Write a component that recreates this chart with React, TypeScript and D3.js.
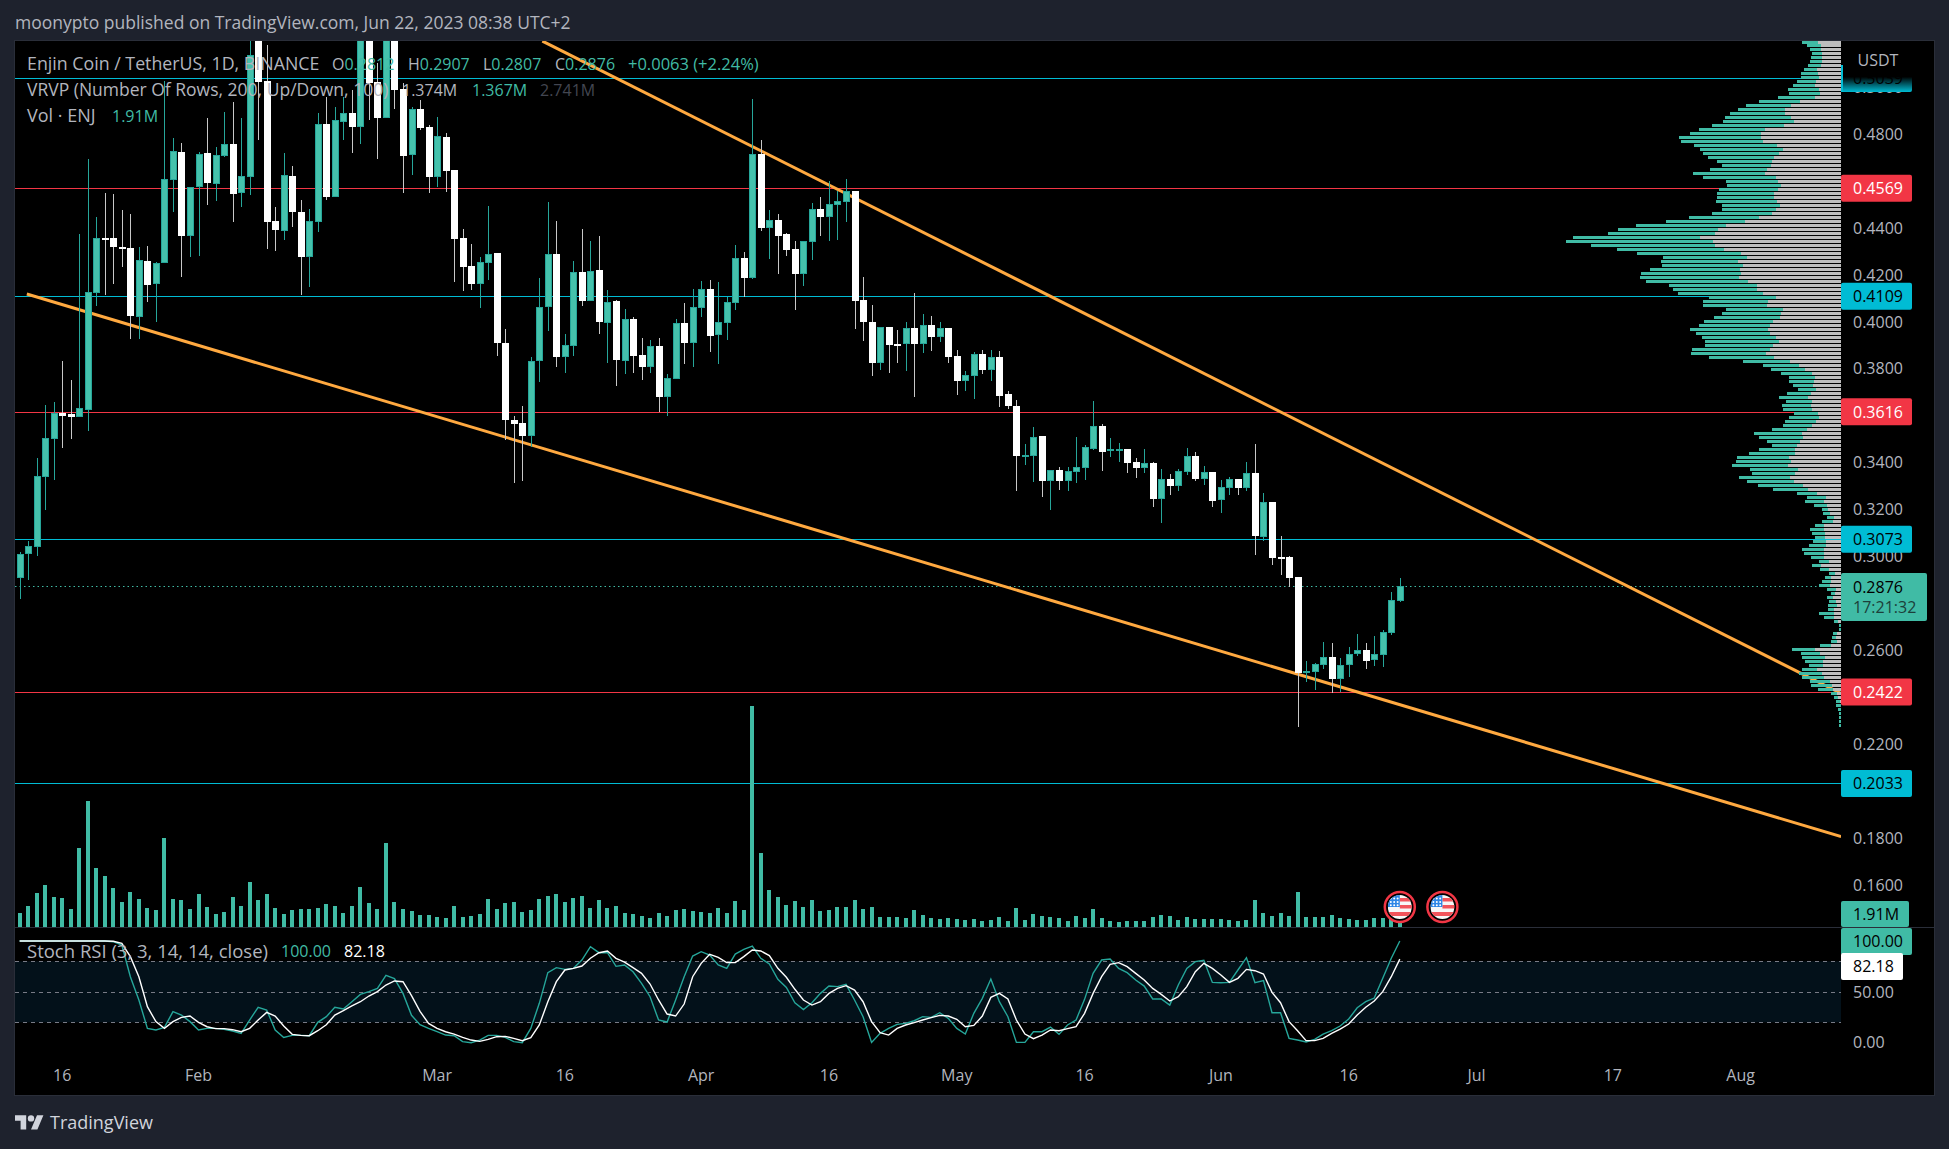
import { useEffect, useRef } from "react";
import * as d3 from "d3";

// Daily candles, day 0 = Jan 11 2023
const opens = [
  0.2906,0.3011,0.3040,0.3340,0.3502,0.3612,0.3607,0.3596,0.3626,0.4124,
  0.4356,0.4356,0.4319,0.4315,0.4022,0.4259,0.4161,0.4252,0.4604,0.4723,
  0.4366,0.4574,0.4719,0.4587,0.4708,0.4758,0.4550,0.4618,0.5210,0.5026,
  0.4430,0.4387,0.4621,0.4468,0.4278,0.4427,0.4843,0.4532,0.4851,0.4890,
  0.4830,0.5290,0.5022,0.4868,0.5250,0.4992,0.4711,0.4907,0.4830,0.4617,
  0.4787,0.4647,0.4357,0.4238,0.4161,0.4251,0.4293,0.3910,0.3582,0.3569,
  0.3514,0.3833,0.4063,0.4289,0.3850,0.3898,0.4212,0.4089,0.4221,0.3995,
  0.4089,0.3833,0.4012,0.3859,0.3808,0.3897,0.3680,0.3756,0.3995,0.3910,
  0.4060,0.4140,0.3944,0.3995,0.4082,0.4272,0.4187,0.4715,0.4400,0.4434,
  0.4374,0.4310,0.4204,0.4340,0.4481,0.4447,0.4498,0.4510,0.4557,0.4093,
  0.3999,0.3825,0.3978,0.3905,0.3905,0.3974,0.3905,0.3986,0.3935,0.3974,
  0.3854,0.3748,0.3769,0.3863,0.3795,0.3850,0.3693,0.3641,0.3428,0.3428,
  0.3514,0.3322,0.3369,0.3322,0.3360,0.3377,0.3458,0.3556,0.3450,0.3450,
  0.3458,0.3403,0.3377,0.3399,0.3245,0.3330,0.3301,0.3360,0.3428,0.3330,
  0.3360,0.3241,0.3292,0.3330,0.3292,0.3356,0.3084,0.3232,0.2998,0.2998,
  0.2913,0.2504,0.2508,0.2538,0.2572,0.2478,0.2538,0.2585,0.2602,0.2559,
  0.2581,0.2674,0.2812,
];
const highs = [
  0.3021,0.3065,0.3420,0.3646,0.3659,0.3833,0.3752,0.4374,0.4694,0.4445,
  0.4547,0.4545,0.4476,0.4459,0.4320,0.4323,0.4256,0.5026,0.4782,0.4760,
  0.4576,0.4725,0.4867,0.4746,0.4895,0.4936,0.4867,0.5196,0.5300,0.5179,
  0.4488,0.4718,0.4664,0.4519,0.4479,0.4888,0.4959,0.4917,0.4959,0.4988,
  0.5360,0.5340,0.5101,0.5330,0.5330,0.5016,0.4917,0.4945,0.4838,0.4874,
  0.4803,0.4647,0.4394,0.4330,0.4278,0.4493,0.4293,0.3969,0.3599,0.3641,
  0.3849,0.4185,0.4510,0.4430,0.3948,0.4259,0.4395,0.4344,0.4366,0.4136,
  0.4093,0.4055,0.4022,0.3930,0.3923,0.3930,0.3778,0.4012,0.4082,0.4138,
  0.4174,0.4178,0.4170,0.4107,0.4327,0.4297,0.4950,0.4775,0.4476,0.4459,
  0.4378,0.4343,0.4344,0.4506,0.4532,0.4600,0.4555,0.4608,0.4557,0.4191,
  0.4072,0.3979,0.3978,0.3965,0.3999,0.4123,0.4033,0.4025,0.3999,0.3974,
  0.3880,0.3790,0.3871,0.3880,0.3880,0.3876,0.3705,0.3667,0.3480,0.3552,
  0.3514,0.3369,0.3382,0.3382,0.3509,0.3475,0.3663,0.3565,0.3505,0.3484,
  0.3458,0.3420,0.3458,0.3403,0.3373,0.3352,0.3373,0.3462,0.3445,0.3386,
  0.3360,0.3326,0.3339,0.3330,0.3403,0.3480,0.3270,0.3232,0.3087,0.3002,
  0.2913,0.2555,0.2546,0.2636,0.2631,0.2568,0.2614,0.2670,0.2631,0.2661,
  0.2687,0.2849,0.2907,
];
const lows = [
  0.2819,0.2900,0.3002,0.3198,0.3326,0.3462,0.3501,0.3593,0.3535,0.4067,
  0.4116,0.4161,0.4232,0.3927,0.3927,0.4086,0.4001,0.4252,0.4468,0.4192,
  0.4278,0.4280,0.4498,0.4516,0.4704,0.4427,0.4488,0.4540,0.4775,0.4310,
  0.4303,0.4349,0.4405,0.4114,0.4147,0.4384,0.4519,0.4532,0.4775,0.4721,
  0.4758,0.4860,0.4694,0.4868,0.4905,0.4550,0.4625,0.4817,0.4550,0.4576,
  0.4552,0.4171,0.4133,0.4136,0.4057,0.4178,0.3852,0.3497,0.3312,0.3323,
  0.3465,0.3745,0.3961,0.3809,0.3781,0.3856,0.4069,0.4089,0.3947,0.3826,
  0.3728,0.3778,0.3781,0.3752,0.3783,0.3616,0.3600,0.3756,0.3820,0.3809,
  0.4022,0.3873,0.3820,0.3923,0.4050,0.4107,0.4182,0.4387,0.4268,0.4204,
  0.4280,0.4050,0.4153,0.4263,0.4366,0.4344,0.4349,0.4425,0.3969,0.3918,
  0.3769,0.3795,0.3782,0.3823,0.3791,0.3680,0.3867,0.3876,0.3914,0.3825,
  0.3688,0.3705,0.3671,0.3778,0.3748,0.3637,0.3629,0.3279,0.3390,0.3318,
  0.3254,0.3198,0.3284,0.3279,0.3313,0.3326,0.3454,0.3365,0.3424,0.3403,
  0.3356,0.3335,0.3356,0.3211,0.3143,0.3262,0.3279,0.3347,0.3322,0.3305,
  0.3211,0.3186,0.3262,0.3262,0.3279,0.3007,0.3067,0.2964,0.2921,0.2870,
  0.2274,0.2465,0.2431,0.2521,0.2418,0.2423,0.2487,0.2576,0.2521,0.2533,
  0.2529,0.2666,0.2807,
];
const closes = [
  0.3011,0.3045,0.3343,0.3505,0.3610,0.3599,0.3595,0.3633,0.4126,0.4356,
  0.4353,0.4320,0.4310,0.4025,0.4263,0.4157,0.4249,0.4608,0.4728,0.4366,
  0.4574,0.4715,0.4591,0.4711,0.4758,0.4545,0.4621,0.5137,0.5022,0.4425,
  0.4391,0.4625,0.4468,0.4276,0.4430,0.4843,0.4532,0.4860,0.4890,0.4830,
  0.5290,0.5017,0.4868,0.5250,0.4988,0.4706,0.4907,0.4826,0.4617,0.4792,
  0.4643,0.4353,0.4234,0.4161,0.4255,0.4289,0.3910,0.3582,0.3565,0.3514,
  0.3833,0.4063,0.4289,0.3850,0.3901,0.4212,0.4089,0.4217,0.3999,0.4084,
  0.3837,0.4012,0.3854,0.3808,0.3897,0.3680,0.3761,0.3995,0.3910,0.4063,
  0.4140,0.3940,0.3999,0.4085,0.4272,0.4187,0.4715,0.4400,0.4434,0.4366,
  0.4306,0.4204,0.4344,0.4481,0.4447,0.4502,0.4515,0.4557,0.4089,0.3999,
  0.3825,0.3978,0.3901,0.3901,0.3974,0.3905,0.3986,0.3935,0.3974,0.3850,
  0.3748,0.3773,0.3863,0.3795,0.3850,0.3684,0.3641,0.3428,0.3433,0.3509,
  0.3322,0.3369,0.3322,0.3365,0.3382,0.3467,0.3556,0.3445,0.3458,0.3458,
  0.3399,0.3377,0.3399,0.3245,0.3330,0.3301,0.3365,0.3428,0.3330,0.3360,
  0.3237,0.3296,0.3330,0.3292,0.3356,0.3085,0.3232,0.2994,0.2994,0.2908,
  0.2504,0.2512,0.2542,0.2572,0.2478,0.2538,0.2585,0.2602,0.2555,0.2585,
  0.2678,0.2815,0.2876,
];
// Volume, millions of ENJ
const volumes = [
  2.06,3.09,5.0,6.18,4.41,4.26,2.65,11.6,18.5,8.68,
  7.5,5.74,3.68,5.15,4.12,2.79,2.5,13.1,4.12,3.97,
  2.65,4.85,2.94,1.91,2.2,4.41,3.09,6.62,3.97,4.85,
  2.79,1.91,2.5,2.65,2.65,2.79,3.38,3.09,2.06,3.09,
  5.88,3.53,2.65,12.35,3.68,2.65,2.35,1.76,1.76,1.47,
  1.32,3.09,1.47,1.62,1.91,4.12,2.65,3.53,3.68,2.2,
  2.5,4.12,4.56,4.85,3.68,4.26,4.56,2.79,3.97,2.79,
  3.09,2.06,1.91,1.62,1.32,2.06,1.62,2.5,2.65,2.35,
  2.2,2.06,2.79,2.06,3.82,2.5,32.5,10.9,5.44,4.41,
  3.24,3.82,2.94,3.97,2.35,2.5,2.94,2.94,3.97,2.65,
  2.94,1.47,1.47,1.47,1.32,2.5,1.76,1.32,1.18,1.32,
  1.18,1.03,1.18,0.88,1.03,1.47,0.88,2.79,1.03,1.91,
  1.62,1.47,1.32,0.88,1.62,1.32,2.65,1.32,0.88,0.74,
  0.88,0.88,0.88,1.47,1.76,1.62,1.03,1.47,1.18,1.18,
  1.18,1.18,1.03,0.88,1.03,3.97,2.06,1.62,2.06,1.62,
  5.15,1.47,1.47,1.47,1.76,1.32,1.18,1.03,1.03,1.32,
  1.32,1.18,1.91,
];
const stochK = [
  100,100,100,100,100,100,100,100,100,100,
  100,99.3,96,64.9,42,14.1,12.5,15.1,30.5,27.2,
  20.7,12.5,14.1,14.1,13.1,11.5,9.2,22.3,34.8,32.1,
  12.5,5.2,7.2,7.2,6.9,20,25.6,34.8,33.1,40.3,
  47.5,50.2,53.4,66.2,63,48.5,26.9,17.7,14.1,10.8,
  7.5,6.9,1,0,2.6,7.2,7.2,5.2,1,0,
  14.1,38.7,68.9,73.8,72.1,73.1,81.3,94.4,88.5,88.5,
  75.1,76.4,69.8,58.4,45.2,22.3,20.3,42,64.9,85.2,
  89.5,86.2,76.4,73.1,87.2,91.8,95.1,83,77.4,62.3,
  54.4,39.3,32.5,39.3,48.5,55.7,55.1,57.4,42,25.6,
  0.3,9.2,14.1,18,19,21.6,25.6,24.9,29.5,23.9,
  14.1,8.5,28.9,43.6,62.6,40.3,25.6,0.3,0.3,10.8,
  10.8,15.4,8.2,17.4,22.3,42.6,68.2,81.3,82.3,73.1,
  68.9,61.6,55.7,43,43,37,56.7,73.1,79.7,81,
  59.3,59,59.3,71.5,83.6,59,61,29.5,29.5,4.3,
  2.6,0.7,3.3,8.5,11.8,16.4,23.3,34.4,40.3,43.9,
  63.3,83,100,
];
const stochD = [
  100,100,100,100,100,100,100,100,100,100,
  100,99.7,97.7,84.6,64.9,35.4,20.7,14.1,20.7,24.9,
  26.2,20,15.7,13.8,13.8,12.8,10.8,14.1,22.3,29.8,
  26.2,16.4,8.2,7.2,6.9,11.8,17.7,27.2,31.5,36.1,
  40.3,45.9,50.2,56.7,60.7,60,46.2,30.8,19,14.1,
  10.8,8.5,5.2,2.6,1.3,3.3,5.9,6.2,4.3,2,
  4.9,17.4,40.3,60,71.5,73.1,75.4,83,88.5,90.2,
  83,79.3,73.8,68.2,57.7,42,28.2,26.2,38,64.9,
  78,86.9,83.9,78.7,78.7,84.6,91.1,90.2,85.6,73.1,
  64.3,52.5,42,37,40.3,48.5,53.4,56.1,51.8,40.3,
  20.7,9.8,7.5,14.1,17.4,19.7,22.3,24.6,26.9,26.2,
  23,15.7,17,26.2,44.6,48.5,43,22.3,8.5,3.9,
  7.5,12.5,11.8,13.8,15.7,28.9,48.5,64.9,77,78.7,
  74.8,68.2,61.6,53.4,47.5,41,45.2,55.1,69.8,78,
  73.1,66.6,59.3,63.3,72.1,70.8,67.5,49.5,39.3,20.7,
  11.8,2,2,4.3,9.2,13.4,18.4,27.2,34.8,41,
  50.2,64.9,82.18,
];
// Visible range volume profile, top row first, millions
const vrvpUp = [
  1.6,1.4,1.1,1.0,1.1,1.2,1.3,1.3,1.7,1.8,1.9,2.2,3.1,3.1,3.7,4.1,4.5,4.7,5.5,6.6,
  7.1,7.2,6.6,7.1,8.2,8.2,8.3,8.3,7.6,6.6,5.5,4.9,5.7,7.2,7.3,5.2,5.4,5.9,5.7,5.7,
  6.1,5.8,5.4,6.0,7.0,7.9,9.0,10.0,10.7,12.7,14.7,12.4,10.7,10.4,8.4,7.7,8.1,9.0,10.0,9.9,
  10.2,8.8,8.4,8.5,6.7,6.5,6.4,5.7,5.9,6.6,6.9,7.1,7.8,7.4,7.4,7.4,6.8,7.8,7.5,6.5,
  4.7,3.6,3.4,3.1,2.6,2.5,2.0,1.8,2.4,2.9,
  2.6,2.9,2.9,2.4,3.0,3.1,2.9,3.5,4.8,4.4,3.3,2.5,3.6,4.6,5.2,5.5,5.6,4.8,4.3,5.1,
  4.7,4.5,3.5,2.0,1.9,1.9,1.3,0.6,0.7,0.7,1.1,0.9,1.4,1.3,1.0,1.3,1.7,2.2,2.0,1.3,
  1.0,0.9,0.9,0.6,0.6,0.9,1.1,0.9,0.4,0.6,0.7,0.9,0.6,1.5,1.0,0.4,0.2,0.2,0.4,0.4,
  0.6,1.1,2.3,1.9,2.3,1.8,1.4,1.5,2.3,2.2,2.0,2.1,1.5,0.6,0.4,0.4,0.5,0.3,0.2,0.2,
  0.2,0.2,
];
const vrvpDown = [
  2.3,2.0,2.0,1.9,1.9,1.9,2.0,2.4,2.3,2.2,2.5,2.6,2.2,2.1,2.6,4.1,5.0,5.6,5.6,5.0,
  4.7,5.7,7.6,8.0,8.0,7.8,6.4,5.8,6.2,6.7,6.9,7.0,7.4,7.6,6.5,6.3,6.0,6.3,6.7,6.7,
  6.4,6.1,6.5,6.9,8.2,9.6,11.5,12.3,12.6,14.1,12.8,12.6,11.7,10.0,9.4,10.3,9.8,10.1,10.0,10.2,
  9.3,8.4,8.4,7.8,6.5,7.3,7.4,5.8,6.0,6.1,6.8,7.1,7.3,7.1,6.5,6.2,6.8,7.1,7.5,6.7,
  5.1,4.2,3.6,2.9,2.6,2.7,2.8,2.5,3.0,3.3,
  2.9,3.0,2.9,2.3,2.2,2.5,2.9,3.4,3.9,3.8,4.1,4.4,4.6,4.6,5.2,5.0,5.3,4.3,4.6,5.1,
  4.7,3.8,3.3,2.4,1.5,1.7,1.4,1.3,1.1,0.7,0.8,1.7,1.7,1.6,1.6,1.5,1.5,1.7,1.7,1.7,
  1.2,2.0,1.2,0.6,1.0,1.0,1.1,0.5,0.6,0.8,0.5,0.4,0.7,0.7,0.7,0.3,0,0,0.4,0.5,
  0.4,1.0,2.6,2.1,1.6,1.8,1.8,2.4,1.9,1.7,1.1,0.9,0.8,0.4,0.3,0.1,0,0,0,0,
  0,0,
];
const vrvpTopPrice = 0.5192;
const vrvpRowStep = 0.0017026;

const priceTicks = [0.48, 0.44, 0.42, 0.4, 0.38, 0.34, 0.32, 0.3, 0.26, 0.22, 0.18, 0.16];
const stochTicks = [50, 0];
const stochBands = [80, 50, 20];
const timeTickLabels = ["16", "Feb", "Mar", "16", "Apr", "16", "May", "16", "Jun", "16", "Jul", "17", "Aug"];
const timeTickDays = [5, 21, 49, 64, 80, 95, 110, 125, 141, 156, 171, 187, 202];
const cyanLevels = [0.5039, 0.4109, 0.3073, 0.2033];
const redLevels = [0.4569, 0.3616, 0.2422];
const eventDays = [162, 167];
// Trend lines as [day, price]
const upperTrend = [[61.36, 0.5196], [213.8, 0.2416]];
const lowerTrend = [[0.85, 0.4118], [213.8, 0.1806]];

const BG = "#1e222d";
const BORDER = "#2a2e39";
const TEAL = "#40bba5";
const TEAL_DARK = "#26a69a";
const RED = "#f23645";
const CYAN = "#00bcd4";
const ORANGE = "#ffa940";
const AXIS_TEXT = "#b2b5be";
const FONT = "'Open Sans', Lato, sans-serif";

export default function App() {
  const svgRef = useRef<SVGSVGElement>(null);

  useEffect(() => {
    const root = d3.select(svgRef.current!);
    root.selectAll("*").remove();

    const W = 1949, H = 1149;
    const plot = { left: 15, top: 41, right: 1841, frameRight: 1934, paneBottom: 927, bottom: 1095 };

    const x = d3.scaleLinear().domain([0, 162]).range([19.6, 1399.8]);
    const yPrice = d3.scaleLinear().domain([0.48, 0.16]).range([134, 885]);
    const yVol = d3.scaleLinear().domain([0, 32.5]).range([plot.paneBottom, 706]);
    const yStoch = d3.scaleLinear().domain([0, 100]).range([1042.7, 941]);
    const wVrvp = d3.scaleLinear().domain([0, 10]).range([0, 100]);

    root.append("rect").attr("width", W).attr("height", H).attr("fill", BG);
    root.append("rect")
      .attr("x", plot.left - 0.5).attr("y", plot.top - 0.5)
      .attr("width", plot.frameRight - plot.left + 1).attr("height", plot.bottom - plot.top + 1)
      .attr("fill", "#000").attr("stroke", BORDER).attr("stroke-width", 1);

    const defs = root.append("defs");
    defs.append("clipPath").attr("id", "mainClip").append("rect")
      .attr("x", plot.left).attr("y", plot.top)
      .attr("width", plot.right - plot.left).attr("height", plot.paneBottom - plot.top);
    defs.append("clipPath").attr("id", "flagClip").append("circle").attr("r", 12);
    const fade = defs.append("linearGradient").attr("id", "tagFade")
      .attr("x1", 0).attr("x2", 0).attr("y1", 0).attr("y2", 1);
    fade.append("stop").attr("offset", "44%").attr("stop-color", "#000");
    fade.append("stop").attr("offset", "100%").attr("stop-color", CYAN);

    const main = root.append("g").attr("clip-path", "url(#mainClip)");

    // Horizontal levels
    const levelLine = (p: number, color: string) =>
      main.append("line")
        .attr("x1", plot.left).attr("x2", plot.right)
        .attr("y1", Math.round(yPrice(p)) + 0.5).attr("y2", Math.round(yPrice(p)) + 0.5)
        .attr("stroke", color).attr("stroke-width", 1);
    cyanLevels.forEach((p) => levelLine(p, CYAN));
    redLevels.forEach((p) => levelLine(p, RED));

    // Last price dotted line
    main.append("line")
      .attr("x1", plot.left).attr("x2", plot.right)
      .attr("y1", Math.round(yPrice(closes[162])) + 0.5).attr("y2", Math.round(yPrice(closes[162])) + 0.5)
      .attr("stroke", TEAL).attr("stroke-dasharray", "1.5,3");

    // Volume
    main.append("g").attr("shape-rendering", "crispEdges")
      .selectAll("rect").data(volumes).enter().append("rect")
      .attr("x", (_, i) => Math.round(x(i)) - 2)
      .attr("width", 4)
      .attr("y", (d) => yVol(d))
      .attr("height", (d) => plot.paneBottom - yVol(d))
      .attr("fill", TEAL);

    // Trend lines go under the profile
    [upperTrend, lowerTrend].forEach((t) => {
      main.append("line")
        .attr("x1", x(t[0][0])).attr("y1", yPrice(t[0][1]))
        .attr("x2", x(t[1][0])).attr("y2", yPrice(t[1][1]))
        .attr("stroke", ORANGE).attr("stroke-width", 3);
    });

    // Candles
    const candles = main.append("g").attr("shape-rendering", "crispEdges");
    opens.forEach((o, i) => {
      const c = closes[i];
      const up = c >= o;
      const cx = Math.round(x(i));
      const top = Math.round(yPrice(Math.max(o, c)));
      const bottom = Math.round(yPrice(Math.min(o, c)));
      candles.append("rect")
        .attr("x", cx).attr("width", 1)
        .attr("y", yPrice(highs[i]))
        .attr("height", yPrice(lows[i]) - yPrice(highs[i]))
        .attr("fill", up ? TEAL_DARK : "#c8c8c8");
      candles.append("rect")
        .attr("x", cx - 3).attr("width", 7)
        .attr("y", top).attr("height", Math.max(2, bottom - top))
        .attr("fill", up ? TEAL_DARK : "#fff");
      if (up && bottom - top > 2) {
        candles.append("rect")
          .attr("x", cx - 2).attr("width", 5)
          .attr("y", top + 1).attr("height", bottom - top - 2)
          .attr("fill", "#45c2ac");
      }
    });

    // Volume profile, anchored to the right edge of the pane
    const rowY = (i: number) => yPrice(vrvpTopPrice - i * vrvpRowStep);
    const vrvp = main.append("g").attr("shape-rendering", "crispEdges");
    vrvpDown.forEach((d, i) => {
      const u = vrvpUp[i];
      const y0 = Math.round(rowY(i) - 1.5);
      if (d > 0) {
        vrvp.append("rect")
          .attr("x", plot.right - wVrvp(d)).attr("width", wVrvp(d))
          .attr("y", y0).attr("height", 3).attr("fill", "#bdbdbd");
      }
      vrvp.append("rect")
        .attr("x", plot.right - wVrvp(d) - wVrvp(u)).attr("width", wVrvp(u))
        .attr("y", y0).attr("height", 3).attr("fill", TEAL);
    });

    // Economic event flags
    eventDays.forEach((day) => {
      const g = root.append("g").attr("transform", `translate(${x(day)},907)`);
      g.append("circle").attr("r", 15).attr("fill", "#000").attr("stroke", RED).attr("stroke-width", 2.5);
      const f = g.append("g").attr("clip-path", "url(#flagClip)");
      f.append("rect").attr("x", -12).attr("y", -12).attr("width", 24).attr("height", 24).attr("fill", "#f7f7f7");
      [-9, -2, 5].forEach((y0) => {
        f.append("rect").attr("x", y0 === 5 ? -12 : 0).attr("y", y0)
          .attr("width", 24).attr("height", y0 === 5 ? 4 : 3.5).attr("fill", "#f2545b");
      });
      f.append("rect").attr("x", -12).attr("y", -12).attr("width", 12).attr("height", 12).attr("fill", "#2e86e6");
      for (let r = 0; r < 3; r++) {
        for (let c = 0; c < 3; c++) {
          f.append("circle").attr("cx", -9 + c * 3.4).attr("cy", -8.5 + r * 3.4).attr("r", 1).attr("fill", "#fff");
        }
      }
    });

    // Stoch RSI pane
    const bandTop = yStoch(80), bandBottom = yStoch(20);
    root.append("rect")
      .attr("x", plot.left).attr("width", plot.right - plot.left)
      .attr("y", bandTop).attr("height", bandBottom - bandTop).attr("fill", "#03111a");
    stochBands.forEach((v) => {
      root.append("line")
        .attr("x1", plot.left).attr("x2", plot.right)
        .attr("y1", Math.round(yStoch(v)) + 0.5).attr("y2", Math.round(yStoch(v)) + 0.5)
        .attr("stroke", "#787b86").attr("stroke-dasharray", "4,4");
    });
    const stochLine = d3.line<number>().x((_, i) => x(i)).y((d) => yStoch(d));
    root.append("path").attr("d", stochLine(stochK)!).attr("fill", "none").attr("stroke", TEAL_DARK).attr("stroke-width", 1.4);
    root.append("path").attr("d", stochLine(stochD)!).attr("fill", "none").attr("stroke", "#fff").attr("stroke-width", 1.4);

    // Pane separator
    root.append("line")
      .attr("x1", plot.left).attr("x2", plot.frameRight)
      .attr("y1", plot.paneBottom + 0.5).attr("y2", plot.paneBottom + 0.5)
      .attr("stroke", BORDER);

    const text = (
      str: string, tx: number, ty: number, fill: string, size = 16,
      anchor: string = "start", parent: d3.Selection<any, any, any, any> = root,
    ) =>
      parent.append("text")
        .attr("x", tx).attr("y", ty).attr("dy", "0.36em")
        .attr("fill", fill).attr("font-size", size).attr("font-family", FONT)
        .attr("text-anchor", anchor).text(str);

    // Price axis
    priceTicks.forEach((p) => text(p.toFixed(4), 1853, yPrice(p), AXIS_TEXT));
    stochTicks.forEach((v) => text(v.toFixed(2), 1853, yStoch(v), AXIS_TEXT));

    const tag = (label: string, yc: number, w: number, fill: string, color: string) => {
      root.append("rect").attr("x", 1841).attr("y", yc - 13.5).attr("width", w).attr("height", 27).attr("rx", 2).attr("fill", fill);
      text(label, 1853, yc, color);
    };
    cyanLevels.slice(1).forEach((p) => tag(p.toFixed(4), yPrice(p), 71, CYAN, "#000"));
    redLevels.forEach((p) => tag(p.toFixed(4), yPrice(p), 71, RED, "#fff"));

    // The 0.5039 tag fades to black at its top, the 0.5000 tick peeks out below it
    text("0.5000", 1853, yPrice(0.5), AXIS_TEXT);
    root.append("rect").attr("x", 1841).attr("y", 65).attr("width", 71).attr("height", 27).attr("rx", 2).attr("fill", "url(#tagFade)");
    root.append("rect").attr("x", 1841).attr("y", 65).attr("width", 2).attr("height", 27).attr("fill", CYAN);
    text("0.5039", 1853, yPrice(0.5039), "#000");
    text("USDT", 1878, 60, AXIS_TEXT, 16, "middle");

    // Last price tag with countdown
    root.append("rect").attr("x", 1841).attr("y", 573).attr("width", 86).attr("height", 48).attr("rx", 2).attr("fill", TEAL);
    text("0.2876", 1853, 587, "#000");
    text("17:21:32", 1853, 607, "#1c3f3a");

    // Volume and stoch tags
    root.append("rect").attr("x", 1841).attr("y", 901).attr("width", 68).attr("height", 26).attr("rx", 2).attr("fill", TEAL);
    text("1.91M", 1853, 914, "#000");
    root.append("rect").attr("x", 1841).attr("y", 928).attr("width", 71).attr("height", 27).attr("rx", 2).attr("fill", TEAL);
    text("100.00", 1853, yStoch(100), "#000");
    root.append("rect").attr("x", 1841).attr("y", 953).attr("width", 62).attr("height", 27).attr("rx", 2).attr("fill", "#fff");
    text("82.18", 1853, 966, "#000");

    // Time axis
    timeTickDays.forEach((d, i) => text(timeTickLabels[i], x(d), 1075, AXIS_TEXT, 16, "middle"));

    // Legends
    text("moonypto published on TradingView.com, Jun 22, 2023 08:38 UTC+2", 15, 23, AXIS_TEXT, 17.5);
    text("Enjin Coin / TetherUS, 1D, BINANCE", 27, 64, AXIS_TEXT, 17.8);
    [["O", "0.2812", 332], ["H", "0.2907", 408], ["L", "0.2807", 483], ["C", "0.2876", 555]].forEach(([k, v, lx]) => {
      const t = text(k as string, lx as number, 64, AXIS_TEXT);
      t.append("tspan").attr("fill", TEAL).text(v as string);
    });
    text("+0.0063 (+2.24%)", 628, 64, TEAL, 16.5);
    text("VRVP (Number Of Rows, 200, Up/Down, 100)", 27, 90, AXIS_TEXT, 17.5);
    text("1.374M", 402, 90, AXIS_TEXT);
    text("1.367M", 472, 90, TEAL);
    text("2.741M", 540, 90, "#434651");
    text("Vol · ENJ", 27, 116, AXIS_TEXT, 18);
    text("1.91M", 112, 116, TEAL);
    text("Stoch RSI (3, 3, 14, 14, close)", 27, 951, AXIS_TEXT, 18.5);
    text("100.00", 281, 951, TEAL);
    text("82.18", 344, 951, "#fff");

    // Brand mark
    const logo = root.append("g").attr("transform", "translate(15,1112) scale(0.8)").attr("fill", "#d1d4dc");
    logo.append("path").attr("d", "M14 22H7V11H0V4h14v18zM28 22h-8l7.5-18h8L28 22z");
    logo.append("circle").attr("cx", 20).attr("cy", 8).attr("r", 4);
    text("TradingView", 50, 1123, "#d1d4dc", 18);
  }, []);

  return (
    <svg
      ref={svgRef}
      width={1949}
      height={1149}
      style={{ position: "absolute", left: 0, top: 0, display: "block" }}
    />
  );
}
